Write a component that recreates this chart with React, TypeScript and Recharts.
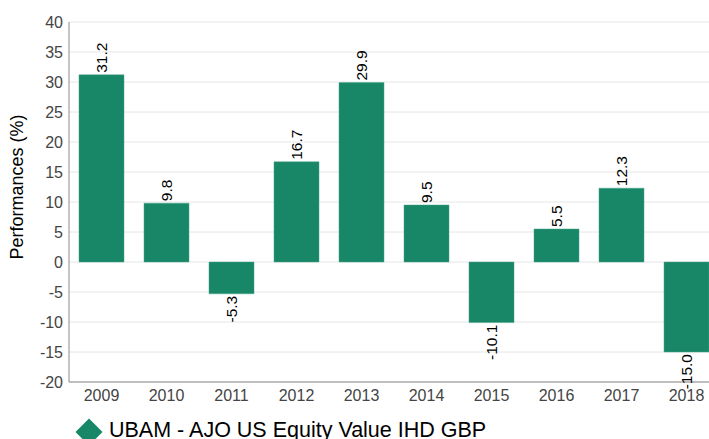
import * as React from "react"
import { BarChart, Bar, XAxis, YAxis, CartesianGrid, LabelList } from "recharts"

const years = ["2009", "2010", "2011", "2012", "2013", "2014", "2015", "2016", "2017", "2018"]
const performances = [31.2, 9.8, -5.3, 16.7, 29.9, 9.5, -10.1, 5.5, 12.3, -15.0]
const yTicks = [-20, -15, -10, -5, 0, 5, 10, 15, 20, 25, 30, 35, 40]
const seriesName = "UBAM - AJO US Equity Value IHD GBP"

const BAR_COLOR = "#178767"
const FONT = "'Liberation Sans', Arial, sans-serif"

const data = years.map((year, i) => ({ year, value: performances[i] }))

function ValueLabel(props: any) {
  const { x, y, width, height, value } = props
  const cx = Number(x) + Number(width) / 2
  const top = Math.min(Number(y), Number(y) + Number(height))
  const bottom = Math.max(Number(y), Number(y) + Number(height))
  const positive = Number(value) >= 0
  const ly = positive ? top - 2 : bottom + 2
  return (
    <text
      x={cx}
      y={ly}
      transform={`rotate(-90 ${cx} ${ly})`}
      textAnchor={positive ? "start" : "end"}
      dominantBaseline="central"
      fontSize={15.5}
      fill="#000"
      fontFamily={FONT}
    >
      {Number(value).toFixed(1)}
    </text>
  )
}

export default function App() {
  return (
    <div
      style={{
        position: "absolute",
        left: 0,
        top: 0,
        width: 709,
        height: 439,
        overflow: "hidden",
        background: "#fff",
        fontFamily: FONT,
      }}
    >
      <BarChart
        width={719}
        height={412}
        data={data}
        margin={{ top: 22, right: 0, bottom: 0, left: 0 }}
        barCategoryGap={10}
      >
        <CartesianGrid vertical={false} stroke="#e6e6e6" />
        <XAxis
          dataKey="year"
          height={30}
          tickLine={false}
          axisLine={{ stroke: "#8a8a8a" }}
          tick={{ fontSize: 16, fill: "#444", fontFamily: FONT }}
        />
        <YAxis
          width={69}
          domain={[-20, 40]}
          ticks={yTicks}
          interval={0}
          tickLine={false}
          tickSize={6}
          tickMargin={0}
          axisLine={{ stroke: "#8a8a8a" }}
          tick={{ fontSize: 16, fill: "#444", fontFamily: FONT }}
          label={{
            value: "Performances (%)",
            angle: -90,
            position: "insideLeft",
            offset: 0,
            style: { fontSize: 18, fill: "#000", fontFamily: FONT, textAnchor: "middle" },
            dx: 17,
            dy: -15,
          }}
        />
        <Bar dataKey="value" fill={BAR_COLOR} stroke="#4aa58b" strokeWidth={0.5} isAnimationActive={false}>
          <LabelList dataKey="value" content={ValueLabel} />
        </Bar>
      </BarChart>
      <svg width={28} height={28} style={{ position: "absolute", left: 75, top: 418 }}>
        <polygon points="14,0.5 27.5,14 14,27.5 0.5,14" fill={BAR_COLOR} />
      </svg>
      <span
        style={{
          position: "absolute",
          left: 109,
          top: 418,
          fontSize: 21.5,
          color: "#000",
          whiteSpace: "nowrap",
        }}
      >
        {seriesName}
      </span>
    </div>
  )
}
